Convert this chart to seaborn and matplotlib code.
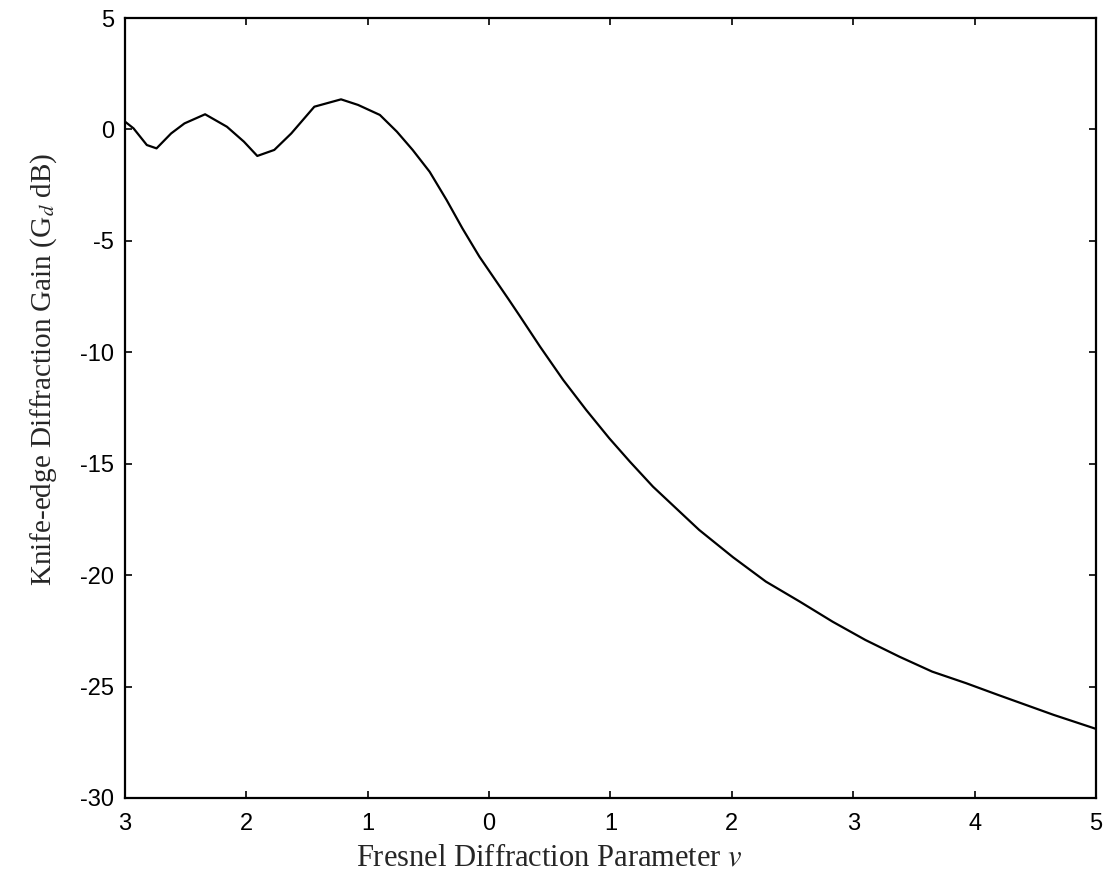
import numpy as np
import pandas as pd
import matplotlib
matplotlib.use("Agg")
import matplotlib.pyplot as plt
import seaborn as sns

# values
fresnel_v = [-3.00, -2.93, -2.82, -2.74, -2.62, -2.51, -2.34, -2.16, -2.02, -1.91,
             -1.77, -1.63, -1.44, -1.22, -1.08, -0.90, -0.76, -0.63, -0.49, -0.35,
             -0.22, -0.08, 0.16, 0.25, 0.42, 0.61, 0.80, 0.99, 1.16, 1.35,
             1.73, 2.01, 2.28, 2.56, 2.83, 3.10, 3.38, 3.65, 3.93, 4.19,
             4.65, 5.00]
gain_db = [0.35, 0.05, -0.70, -0.85, -0.18, 0.27, 0.68, 0.12, -0.55, -1.19,
           -0.92, -0.18, 1.02, 1.35, 1.10, 0.65, -0.10, -0.92, -1.90, -3.17,
           -4.44, -5.71, -7.62, -8.35, -9.75, -11.24, -12.59, -13.86, -14.91, -16.03,
           -17.97, -19.20, -20.29, -21.19, -22.09, -22.91, -23.66, -24.33, -24.85, -25.37,
           -26.27, -26.90]

x_ticks = [-3, -2, -1, 0, 1, 2, 3, 4, 5]
x_ticklabels = ["3", "2", "1", "0", "1", "2", "3", "4", "5"]
y_ticks = [5, 0, -5, -10, -15, -20, -25, -30]
y_ticklabels = ["5", "0", "-5", "-10", "-15", "-20", "-25", "-30"]

df = pd.DataFrame({"v": fresnel_v, "gain": gain_db})

sns.set_style("ticks")
plt.rcParams["font.family"] = ["Liberation Sans", "DejaVu Sans"]
plt.rcParams["mathtext.fontset"] = "stix"

fig = plt.figure(figsize=(11.11, 8.74), dpi=100)
ax = fig.add_axes([0.1125, 0.087, 0.874, 0.8924])

sns.lineplot(data=df, x="v", y="gain", ax=ax, color="black", linewidth=1.6)
ax.lines[0].set_solid_joinstyle("round")

ax.set_xlim(-3, 5)
ax.set_ylim(-30, 5)
ax.set_xticks(x_ticks)
ax.set_xticklabels(x_ticklabels)
ax.set_yticks(y_ticks)
ax.set_yticklabels(y_ticklabels)
ax.tick_params(direction="in", length=5, width=1.2, top=True, right=True,
               labelsize=17, colors="black")
ax.tick_params(axis="x", pad=11)
ax.tick_params(axis="y", pad=8)
for s in ax.spines.values():
    s.set_visible(True)
    s.set_linewidth(1.6)
    s.set_color("black")

ax.set_xlabel("Fresnel Diffraction Parameter $v$", family="Liberation Serif",
              fontsize=22)
ax.set_ylabel("Knife-edge Diffraction Gain (G$_d$ dB)", family="Liberation Serif",
              fontsize=21)
ax.xaxis.set_label_coords(0.437, -0.058)
ax.yaxis.set_label_coords(-0.068, 0.55)

fig.savefig("out.png", dpi=100)
